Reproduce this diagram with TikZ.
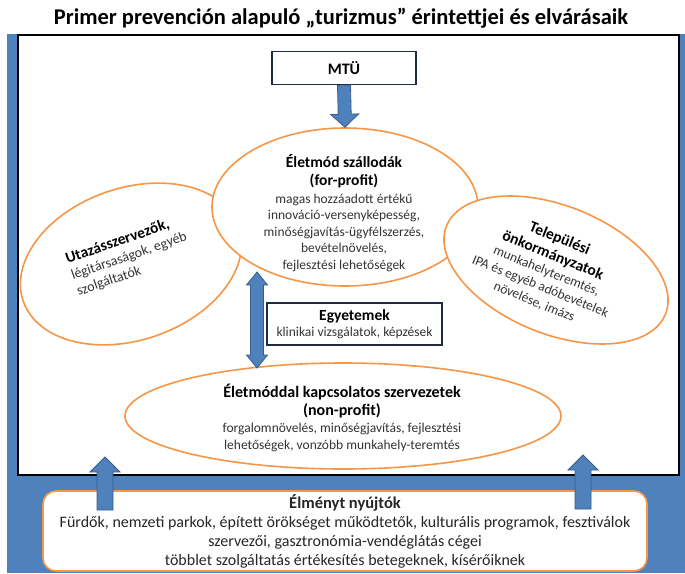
\documentclass[tikz,border=0pt]{standalone}
\usepackage{fontspec}
\setmainfont{Carlito}
\usetikzlibrary{shapes.geometric,calc}
\definecolor{bgblue}{HTML}{4F81BD}
\definecolor{arredge}{HTML}{385D8A}
\definecolor{orng}{HTML}{F79646}
\definecolor{navy}{HTML}{1F2B40}
\definecolor{bodytxt}{HTML}{333333}
\tikzset{
  oval/.style={ellipse, draw=orng, line width=1.6pt, fill=white, inner sep=0pt},
  arrowstyle/.style={fill=bgblue, draw=arredge, line width=0.8pt},
  body/.style={font=\fontsize{13.5}{16.5}\selectfont, text=bodytxt, align=center, inner sep=0pt},
  darkbox/.style={draw=navy, line width=1.5pt, fill=white, inner sep=0pt},
}
\newcommand\hd[2][15.5]{\textcolor{black}{\bfseries\fontsize{#1}{16.5}\selectfont #2}}
\newcommand\blockarr[5]{%
  \coordinate (baA) at (#1);
  \coordinate (baB) at (#2);
  \coordinate (baN) at ($(baB)!#5!(baA)$);
  \filldraw[arrowstyle] ($(baA)!#3!90:(baB)$) -- ($(baN)!#3!90:(baB)$) -- ($(baN)!#4!90:(baB)$) -- (baB) -- ($(baN)!#4!-90:(baB)$) -- ($(baN)!#3!-90:(baB)$) -- ($(baA)!#3!-90:(baB)$) -- cycle;
}
\newcommand\dblarr[5]{%
  \coordinate (daA) at (#1);
  \coordinate (daB) at (#2);
  \coordinate (daN) at ($(daB)!#5!(daA)$);
  \coordinate (daM) at ($(daA)!#5!(daB)$);
  \filldraw[arrowstyle] (daA) -- ($(daM)!#4!90:(daB)$) -- ($(daM)!#3!90:(daB)$) -- ($(daN)!#3!90:(daB)$) -- ($(daN)!#4!90:(daB)$) -- (daB) -- ($(daN)!#4!-90:(daB)$) -- ($(daN)!#3!-90:(daB)$) -- ($(daM)!#3!-90:(daB)$) -- ($(daM)!#4!-90:(daB)$) -- cycle;
}
\begin{document}
\begin{tikzpicture}[x=1pt,y=-1pt]
\useasboundingbox (0,0) rectangle (685,573);
\fill[white] (0,0) rectangle (685,573);
\fill[bgblue] (7,34) rectangle (685,573);
\node[draw=black, line width=1.5pt, fill=white, minimum width=661pt, minimum height=440pt, inner sep=0pt, anchor=north west] (frame) at (17,34) {};

\node[font=\bfseries\fontsize{22.5}{25}\selectfont] (title) at (341,18) {Primer prevención alapuló „turizmus” érintettjei és elvárásaik};

\node[oval, minimum width=228pt, minimum height=152pt, rotate=19] (tour) at (131,264) {};
\node[oval, minimum width=266pt, minimum height=158pt] (hotel) at (345,207) {};
\node[oval, minimum width=236pt, minimum height=128pt, rotate=-22] (local) at (556,270) {};
\node[oval, minimum width=436pt, minimum height=106pt] (org) at (343,416) {};

\node[body, rotate=19, align=left, font=\fontsize{14}{17}\selectfont] (tourtext) at (129,256) {\hd{Utazásszervezők,}\\légitársaságok, egyéb\\szolgáltatók};
\node[body] (hoteltext) at (344,213) {\hd{Életmód szállodák}\\[1.5pt]\hd{(for-profit)}\\[1.5pt]magas hozzáadott értékű\\innováció-versenyképesség,\\minőségjavítás-ügyfélszerzés,\\bevételnövelés,\\fejlesztési lehetőségek};
\node[body, rotate=-22] (localtext) at (547,270) {\hd{Települési}\\[1.5pt]\hd{önkormányzatok}\\munkahelyteremtés,\\IPA és egyéb adóbevételek\\növelése, imázs};
\node[body] (orgtext) at (342,418) {\hd[16]{Életmóddal kapcsolatos szervezetek}\\[1.5pt]\hd[16]{(non-profit)}\\[0.5pt]forgalomnövelés, minőségjavítás, fejlesztési\\lehetőségek, vonzóbb munkahely-teremtés};

\node[darkbox, body, minimum width=175pt, minimum height=42pt] (univ) at (354.5,324) {\hd{Egyetemek}\\klinikai vizsgálatok, képzések};
\node[darkbox, minimum width=144pt, minimum height=33pt, font=\bfseries\fontsize{16}{18}\selectfont] (mtu) at (344,68) {MTÜ};

\node[draw=orng, line width=1.6pt, fill=white, rounded corners=13pt, minimum width=604pt, minimum height=80pt, inner sep=0pt, align=center, font=\fontsize{16}{19}\selectfont, text=black!85] (exp) at (345,531) {\textbf{\fontsize{16.5}{19}\selectfont Élményt nyújtók}\\Fürdők, nemzeti parkok, épített örökséget működtetők, kulturális programok, fesztiválok\\szervezői, gasztronómia-vendéglátás cégei\\többlet szolgáltatás értékesítés betegeknek, kísérőiknek};

\blockarr{mtu.south}{hotel.north}{6.5pt}{14pt}{13pt}
\coordinate (la0) at (105,510);
\coordinate (la1) at (105,457);
\blockarr{la0}{la1}{8pt}{15pt}{15pt}
\coordinate (ra0) at (583,509);
\coordinate (ra1) at (583,455);
\blockarr{ra0}{ra1}{8pt}{15pt}{15pt}
\coordinate (da0) at (257,272);
\coordinate (da1) at (257,368);
\dblarr{da0}{da1}{6.5pt}{10.5pt}{13pt}
\end{tikzpicture}
\end{document}
